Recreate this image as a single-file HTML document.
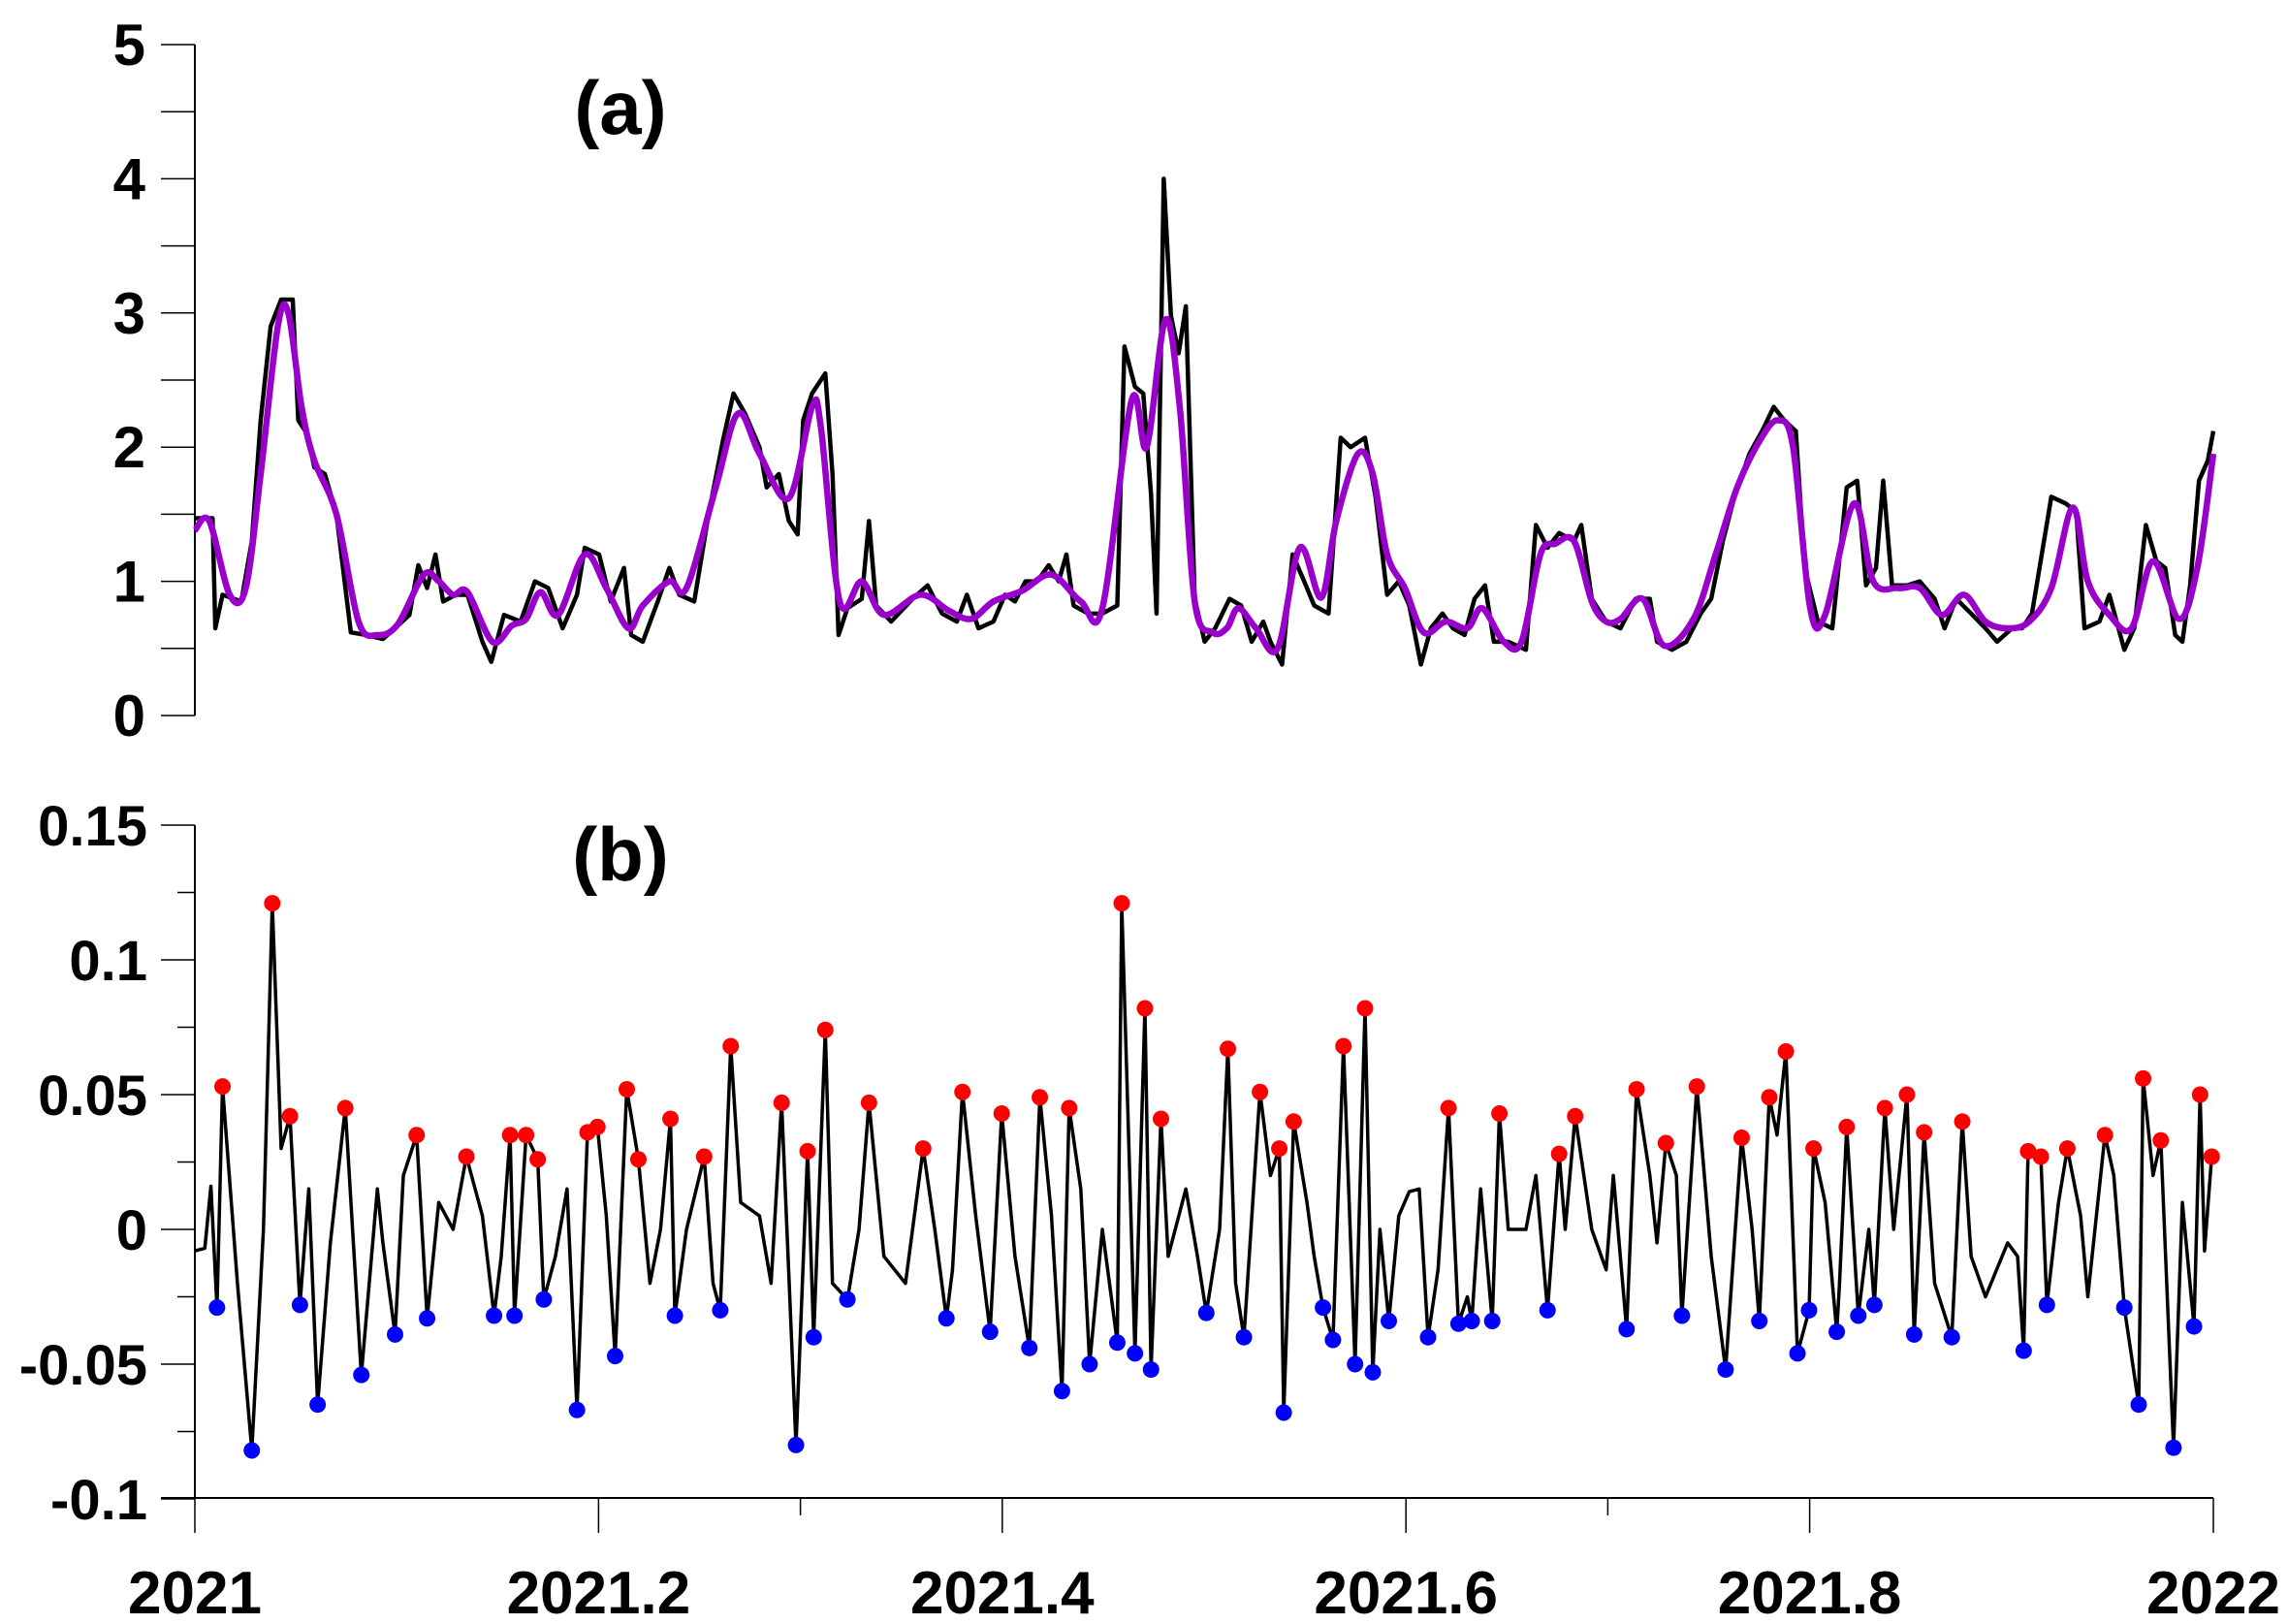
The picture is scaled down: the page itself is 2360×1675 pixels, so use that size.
<!DOCTYPE html>
<html><head><meta charset="utf-8"><style>
html,body{margin:0;padding:0;background:#fff;}
svg{display:block;font-family:"Liberation Sans",Arial,sans-serif;font-weight:bold;}
</style></head><body>
<svg id="chart" width="2360" height="1675" viewBox="0 0 2360 1675"></svg>
<script>
// ---- data ----
const aDays = [0,3.2,3.7,5,8.4,10.3,11.9,13.7,15.6,17.7,18.7,20.3,21.6,23.5,25.6,28.2,30.9,34,36.2,38.8,40.4,42,43.5,44.9,47.2,49.3,52,53.6,55.9,58.9,61.5,63.9,66.5,69.1,70.5,73.1,75.2,77.6,78.9,81,83.7,85.8,87.6,90.3,92.9,95.5,97.4,99.5,102.1,103.4,105.6,107.4,109,110,111.6,114,115.3,116.4,118,120.6,121.9,123.2,125.9,129.8,132.5,135.1,137.8,139.6,141.7,144.4,146.5,148.3,150.2,152.3,154.4,156.2,157.6,158.9,161.5,164.1,166.8,168.1,170,171.5,172.9,173.9,175.2,176.5,177.9,179.2,180.8,182.6,184.5,187.1,189.2,191.1,193.2,194.5,196.6,198.5,200.6,202.4,205,207.2,209,211.6,213.5,215.6,217.7,219.6,221.7,223.5,225.6,227.5,229.6,231.4,233.3,234.9,237.5,240.7,242.5,244.6,246.7,249.4,250.7,252.6,255.2,257.8,260.5,263.1,264.4,267.1,269.7,272.3,274.2,276.3,278.4,281.1,283.4,285.5,287.4,289.5,291.1,293.5,296.1,298.7,300.6,302.2,304,305.3,306.9,309.6,311.9,314.6,316.4,318.5,321.2,323.8,325.9,328.6,330.4,332.2,335.7,338.3,340.2,341.7,344.4,346.2,348.9,350.7,352.8,354.7,356.3,358.1,359.4,360.8,362.4,364,365];
const aValues = [1.47,1.47,0.65,0.9,0.85,1.3,2.2,2.9,3.1,3.1,2.2,2.1,1.85,1.8,1.5,0.62,0.6,0.57,0.65,0.75,1.12,0.95,1.2,0.85,0.9,0.9,0.55,0.4,0.75,0.7,1.0,0.95,0.65,0.9,1.25,1.2,0.85,1.1,0.6,0.55,0.85,1.1,0.9,0.85,1.5,2.05,2.4,2.25,2.0,1.7,1.8,1.45,1.35,2.2,2.4,2.55,1.8,0.6,0.8,0.87,1.45,0.82,0.7,0.87,0.97,0.76,0.7,0.9,0.65,0.7,0.9,0.85,1.0,1.0,1.12,1.0,1.2,0.82,0.76,0.76,0.82,2.75,2.45,2.4,1.65,0.76,4.0,2.98,2.7,3.05,0.87,0.55,0.65,0.87,0.82,0.55,0.7,0.55,0.38,1.2,1.0,0.82,0.76,2.07,2.0,2.07,1.63,0.9,1.0,0.82,0.38,0.65,0.76,0.65,0.6,0.87,0.97,0.55,0.55,0.49,1.42,1.25,1.36,1.3,1.42,0.87,0.7,0.65,0.87,0.87,0.55,0.49,0.55,0.76,0.87,1.3,1.63,1.95,2.12,2.3,2.2,2.12,1.1,0.7,0.65,1.7,1.75,0.97,1.1,1.75,0.97,0.97,1.0,0.87,0.65,0.87,0.76,0.65,0.55,0.65,0.65,0.76,1.63,1.58,1.52,0.65,0.7,0.9,0.49,0.65,1.42,1.15,1.1,0.6,0.55,0.97,1.75,1.9,2.12];
const smDays = [0,2.6,6.3,9.2,11.9,15,16.9,19.3,21.6,25.6,29.6,33,36.7,41.4,44.1,46.7,49.3,53.8,57.3,59.9,62.5,65.7,70.5,74.4,78.4,81,85.8,88.9,94.2,98.2,102.1,107.4,111.6,113.2,116.6,120.6,124.6,131.2,136.4,140.4,144.4,149.6,154.9,160.2,164.1,169.4,172.1,175.5,178.1,180.8,184,186.6,188.7,191.9,195.8,199.8,203.7,206.4,210.3,213,215.6,218.8,222.2,226.2,230.1,232.8,236.7,239.9,243.3,246,249.4,252.6,255.2,257.8,261.8,265.7,271,275,278.9,283,286.3,289,292.1,294.8,300,303.5,308,311.9,315.9,319.9,323.8,327.8,331.7,335.7,339.6,342.3,346.2,350.2,354.1,358.8,362.1,365];
const smValues = [1.38,1.45,0.9,0.95,1.8,2.9,3.0,2.3,1.9,1.5,0.7,0.6,0.68,1.05,1.0,0.9,0.92,0.55,0.67,0.72,0.92,0.75,1.2,0.95,0.65,0.82,1.0,0.95,1.7,2.25,1.95,1.62,2.3,2.15,0.85,1.0,0.75,0.9,0.78,0.72,0.85,0.93,1.05,0.85,0.8,2.35,2.0,2.95,2.3,0.85,0.62,0.65,0.8,0.65,0.5,1.25,0.88,1.45,1.95,1.8,1.2,0.95,0.62,0.7,0.65,0.8,0.55,0.55,1.2,1.28,1.3,0.85,0.7,0.72,0.87,0.52,0.72,1.2,1.7,2.05,2.2,2.0,0.8,0.75,1.58,1.0,0.95,0.95,0.75,0.9,0.7,0.65,0.7,0.95,1.55,1.0,0.75,0.65,1.15,0.72,1.1,1.95];
const maxDays = [5.0,14.0,17.2,27.2,40.1,49.1,57.0,59.9,62.0,71.0,72.8,78.1,80.2,86.0,92.1,96.9,106.1,110.8,114.0,121.9,131.7,138.8,145.9,152.8,158.1,167.6,171.8,174.7,186.8,192.6,196.1,198.7,207.7,211.6,226.7,235.9,246.7,249.6,260.7,266.0,271.6,279.7,284.7,287.7,292.7,298.7,305.6,309.6,312.7,319.6,331.5,333.8,338.6,345.4,352.3,355.5,362.6,364.7];
const maxValues = [0.053,0.121,0.042,0.045,0.035,0.027,0.035,0.035,0.026,0.036,0.038,0.052,0.026,0.041,0.027,0.068,0.047,0.029,0.074,0.047,0.030,0.051,0.043,0.049,0.045,0.121,0.082,0.041,0.067,0.051,0.030,0.040,0.068,0.082,0.045,0.043,0.028,0.042,0.052,0.032,0.053,0.034,0.049,0.066,0.030,0.038,0.045,0.050,0.036,0.040,0.029,0.027,0.030,0.035,0.056,0.033,0.050,0.027];
const minDays = [4.0,10.3,19.0,22.2,30.1,36.2,42.0,54.1,57.8,63.1,69.1,76.0,86.8,95.0,108.7,111.9,118.0,135.9,143.8,150.9,156.8,161.8,166.8,170.0,172.9,182.9,189.7,196.9,204.0,205.8,209.8,213.0,215.9,223.0,228.5,230.9,234.6,244.6,258.9,268.9,276.8,282.9,289.8,291.9,296.9,300.8,303.7,310.9,317.7,330.7,334.9,348.9,351.5,357.8,361.5];
const minValues = [-0.029,-0.082,-0.028,-0.065,-0.054,-0.039,-0.033,-0.032,-0.032,-0.026,-0.067,-0.047,-0.032,-0.030,-0.080,-0.040,-0.026,-0.033,-0.038,-0.044,-0.060,-0.050,-0.042,-0.046,-0.052,-0.031,-0.040,-0.068,-0.029,-0.041,-0.050,-0.053,-0.034,-0.040,-0.035,-0.034,-0.034,-0.030,-0.037,-0.032,-0.052,-0.034,-0.046,-0.030,-0.038,-0.032,-0.028,-0.039,-0.040,-0.045,-0.028,-0.029,-0.065,-0.081,-0.036];
const midDays = [0,1.8,2.9,7.7,12.4,15.6,20.6,24.5,33,34,37.7,44.1,46.7,52,55.4,65.2,67.3,74.4,82.3,84.2,88.9,93.7,98.7,102.1,104.2,115.3,120.1,124.6,128.5,133.8,137,141.2,148.3,154.9,160.2,164.1,176,179.2,181.3,185.3,188.2,194.5,201.1,202.4,214.3,217.7,219.6,221.4,224.8,230.1,232.5,237.5,240.7,242.5,247.8,252.6,255.2,256.5,263.1,264.4,267.9,274.2,281.6,286.1,294.8,297.4,302.7,307.2,314.6,321.2,323.8,327.8,329.6,337,341,342.3,347,354.1,359.4,363.4];
const midValues = [-0.008,-0.007,0.016,-0.02,0.0,0.03,0.015,-0.005,0.015,-0.005,0.02,0.01,0.0,0.005,-0.01,-0.01,0.015,0.005,-0.02,0.0,0.0,-0.02,0.01,0.005,-0.02,-0.02,0.0,-0.01,-0.02,0.0,-0.015,0.005,-0.01,0.005,0.015,0.0,-0.01,0.015,-0.01,0.0,-0.02,0.02,0.01,-0.01,0.0,0.005,0.014,0.015,-0.015,-0.025,0.015,0.0,0.0,0.02,0.0,0.0,-0.015,0.02,0.02,-0.005,0.02,-0.01,0.0,0.035,0.01,-0.02,0.0,0.0,-0.02,-0.01,-0.025,-0.005,-0.01,0.01,0.005,-0.025,0.02,0.02,0.01,-0.008];
const xTicks = [2021,2021.2,2021.4,2021.6,2021.8,2022];
const xTickLabels = ["2021","2021.2","2021.4","2021.6","2021.8","2022"];
const aTicks = [0,1,2,3,4,5];
const bTicks = [-0.1,-0.05,0,0.05,0.1,0.15];
const bTickLabels = ["-0.1","-0.05","0","0.05","0.1","0.15"];

// ---- scales ----
const X0=201, X1=2283;
const xDay = d => X0 + d/365*(X1-X0);
const xYear = y => X0 + (y-2021)*(X1-X0);
const yA = v => 738 - v*138.4;
const yB = v => 1268 - v*2780;
const svg = document.getElementById('chart');
const NS='http://www.w3.org/2000/svg';
function mk(tag, attrs, parent){const e=document.createElementNS(NS,tag);for(const k in attrs)e.setAttribute(k,attrs[k]);(parent||svg).appendChild(e);return e;}

// panel a axis
const axA = mk('g',{});


mk('line',{x1:X0,y1:yA(5),x2:X0,y2:yA(0),stroke:'#000','stroke-width':2},axA);
for(let v=0; v<=5; v+=0.5){mk('line',{x1:166,y1:yA(v),x2:X0,y2:yA(v),stroke:'#000','stroke-width':1.5},axA);}
aTicks.forEach(v=>{const t=mk('text',{x:150,y:yA(v)+21,'text-anchor':'end','font-size':60},axA);t.textContent=v;

});

// panel b axis
const axB = mk('g',{});


mk('line',{x1:X0,y1:yB(0.15),x2:X0,y2:yB(-0.1),stroke:'#000','stroke-width':2},axB);
for(let i=0;i<=10;i++){const v=-0.1+i*0.025;mk('line',{x1:(i%2?183:166),y1:yB(v),x2:X0,y2:yB(v),stroke:'#000','stroke-width':1.5},axB);}
bTicks.forEach((v,i)=>{const t=mk('text',{x:152,y:yB(v)+21,'text-anchor':'end','font-size':58},axB);t.textContent=bTickLabels[i];

});

// x axis
const axX = mk('g',{});


mk('line',{x1:166,y1:1545,x2:X1,y2:1545,stroke:'#000','stroke-width':2},axX);
xTicks.forEach((v,i)=>{mk('line',{x1:xYear(v),y1:1545,x2:xYear(v),y2:1581,stroke:'#000','stroke-width':1.5},axX);
const t=mk('text',{x:xYear(v),y:1664,'text-anchor':'middle','font-size':62},axX);t.textContent=xTickLabels[i];

});
[2021.3,2021.7].forEach(v=>mk('line',{x1:xYear(v),y1:1545,x2:xYear(v),y2:1563,stroke:'#000','stroke-width':1.5},axX));

// panel labels
const la=mk('text',{x:640,y:138,'text-anchor':'middle','font-size':78});la.textContent='(a)';


const lb=mk('text',{x:640,y:908,'text-anchor':'middle','font-size':78});lb.textContent='(b)';



// panel a raw series
const pa=mk('polyline',{points:aDays.map((d,i)=>xDay(d)+','+yA(aValues[i])).join(' '),fill:'none',stroke:'#000','stroke-width':4.5,'stroke-linejoin':'round'});


// smoothed (catmull-rom)
const sp=smDays.map((d,i)=>[xDay(d),yA(smValues[i])]);
let dstr='M'+sp[0][0]+','+sp[0][1];
for(let i=0;i<sp.length-1;i++){const p0=sp[i-1]||sp[i],p1=sp[i],p2=sp[i+1],p3=sp[i+2]||p2;
dstr+=' C'+(p1[0]+(p2[0]-p0[0])/6)+','+(p1[1]+(p2[1]-p0[1])/6)+' '+(p2[0]-(p3[0]-p1[0])/6)+','+(p2[1]-(p3[1]-p1[1])/6)+' '+p2[0]+','+p2[1];}
const ps=mk('path',{d:dstr,fill:'none',stroke:'#9900cc','stroke-width':6.5,'stroke-linejoin':'round'});



// panel b
const pts=[];
maxDays.forEach((d,i)=>pts.push([d,maxValues[i]]));
minDays.forEach((d,i)=>pts.push([d,minValues[i]]));
midDays.forEach((d,i)=>pts.push([d,midValues[i]]));
pts.sort((a,b)=>a[0]-b[0]);
const pb=mk('polyline',{points:pts.map(p=>xDay(p[0])+','+yB(p[1])).join(' '),fill:'none',stroke:'#000','stroke-width':3.5,'stroke-linejoin':'round'});


maxDays.forEach((d,i)=>{const c=mk('circle',{cx:xDay(d),cy:yB(maxValues[i]),r:8.5,fill:'#ff0000'});

});
minDays.forEach((d,i)=>{const c=mk('circle',{cx:xDay(d),cy:yB(minValues[i]),r:8.5,fill:'#0000ff'});

});
</script>
</body></html>
